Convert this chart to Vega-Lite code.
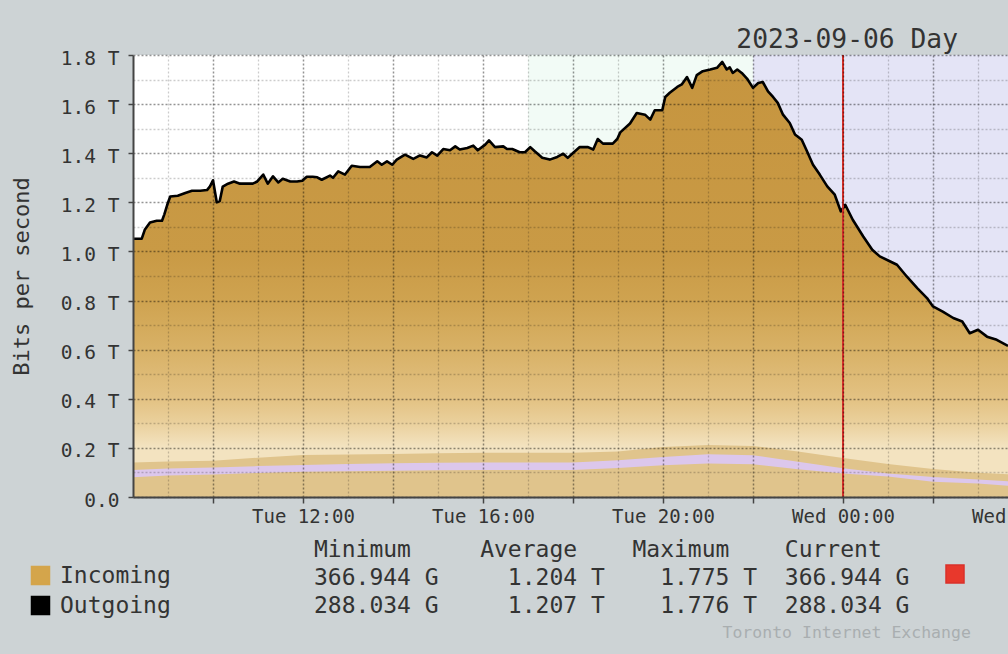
{
  "$schema": "https://vega.github.io/schema/vega-lite/v6.json",
  "autosize": "none",
  "width": 920,
  "height": 442,
  "padding": {"left": 133, "top": 55, "right": -45, "bottom": 157},
  "background": "#CDD3D5",
  "title": {"text": "2023-09-06 Day", "anchor": "end", "frame": "group", "orient": "top", "offset": 7, "dx": -95, "dy": 33, "font": "DejaVu Sans Mono", "fontSize": 26.3, "fontWeight": "normal", "color": "#333333", "baseline": "alphabetic"},
  "datasets": {
    "periods": [
      {"start": "2023-09-05T08:00", "end": "2023-09-05T17:00", "period": "day"},
      {"start": "2023-09-05T17:00", "end": "2023-09-05T22:00", "period": "peak"},
      {"start": "2023-09-05T22:00", "end": "2023-09-06T05:00", "period": "night"}
    ],
    "traffic": [
      {"t": "2023-09-05T08:13", "incoming": 1.052, "outgoing": 1.052},
      {"t": "2023-09-05T08:25", "incoming": 1.052, "outgoing": 1.052},
      {"t": "2023-09-05T08:29", "incoming": 1.088, "outgoing": 1.088},
      {"t": "2023-09-05T08:36", "incoming": 1.118, "outgoing": 1.118},
      {"t": "2023-09-05T08:45", "incoming": 1.125, "outgoing": 1.125},
      {"t": "2023-09-05T08:52", "incoming": 1.125, "outgoing": 1.125},
      {"t": "2023-09-05T08:55", "incoming": 1.150, "outgoing": 1.150},
      {"t": "2023-09-05T08:59", "incoming": 1.190, "outgoing": 1.190},
      {"t": "2023-09-05T09:03", "incoming": 1.224, "outgoing": 1.224},
      {"t": "2023-09-05T09:13", "incoming": 1.227, "outgoing": 1.227},
      {"t": "2023-09-05T09:23", "incoming": 1.238, "outgoing": 1.238},
      {"t": "2023-09-05T09:32", "incoming": 1.247, "outgoing": 1.247},
      {"t": "2023-09-05T09:43", "incoming": 1.247, "outgoing": 1.247},
      {"t": "2023-09-05T09:52", "incoming": 1.250, "outgoing": 1.250},
      {"t": "2023-09-05T09:56", "incoming": 1.265, "outgoing": 1.265},
      {"t": "2023-09-05T10:00", "incoming": 1.290, "outgoing": 1.290},
      {"t": "2023-09-05T10:05", "incoming": 1.200, "outgoing": 1.200},
      {"t": "2023-09-05T10:09", "incoming": 1.205, "outgoing": 1.205},
      {"t": "2023-09-05T10:13", "incoming": 1.264, "outgoing": 1.264},
      {"t": "2023-09-05T10:20", "incoming": 1.276, "outgoing": 1.276},
      {"t": "2023-09-05T10:28", "incoming": 1.285, "outgoing": 1.285},
      {"t": "2023-09-05T10:36", "incoming": 1.276, "outgoing": 1.276},
      {"t": "2023-09-05T10:45", "incoming": 1.276, "outgoing": 1.276},
      {"t": "2023-09-05T10:53", "incoming": 1.276, "outgoing": 1.276},
      {"t": "2023-09-05T10:59", "incoming": 1.285, "outgoing": 1.285},
      {"t": "2023-09-05T11:07", "incoming": 1.313, "outgoing": 1.313},
      {"t": "2023-09-05T11:13", "incoming": 1.276, "outgoing": 1.276},
      {"t": "2023-09-05T11:20", "incoming": 1.306, "outgoing": 1.306},
      {"t": "2023-09-05T11:27", "incoming": 1.281, "outgoing": 1.281},
      {"t": "2023-09-05T11:33", "incoming": 1.296, "outgoing": 1.296},
      {"t": "2023-09-05T11:43", "incoming": 1.285, "outgoing": 1.285},
      {"t": "2023-09-05T11:52", "incoming": 1.285, "outgoing": 1.285},
      {"t": "2023-09-05T11:59", "incoming": 1.288, "outgoing": 1.288},
      {"t": "2023-09-05T12:05", "incoming": 1.304, "outgoing": 1.304},
      {"t": "2023-09-05T12:13", "incoming": 1.304, "outgoing": 1.304},
      {"t": "2023-09-05T12:19", "incoming": 1.302, "outgoing": 1.302},
      {"t": "2023-09-05T12:25", "incoming": 1.292, "outgoing": 1.292},
      {"t": "2023-09-05T12:36", "incoming": 1.309, "outgoing": 1.309},
      {"t": "2023-09-05T12:40", "incoming": 1.300, "outgoing": 1.300},
      {"t": "2023-09-05T12:47", "incoming": 1.326, "outgoing": 1.326},
      {"t": "2023-09-05T12:56", "incoming": 1.313, "outgoing": 1.313},
      {"t": "2023-09-05T13:05", "incoming": 1.349, "outgoing": 1.349},
      {"t": "2023-09-05T13:16", "incoming": 1.344, "outgoing": 1.344},
      {"t": "2023-09-05T13:29", "incoming": 1.344, "outgoing": 1.344},
      {"t": "2023-09-05T13:39", "incoming": 1.367, "outgoing": 1.367},
      {"t": "2023-09-05T13:45", "incoming": 1.353, "outgoing": 1.353},
      {"t": "2023-09-05T13:52", "incoming": 1.367, "outgoing": 1.367},
      {"t": "2023-09-05T13:59", "incoming": 1.353, "outgoing": 1.353},
      {"t": "2023-09-05T14:05", "incoming": 1.374, "outgoing": 1.374},
      {"t": "2023-09-05T14:16", "incoming": 1.394, "outgoing": 1.394},
      {"t": "2023-09-05T14:27", "incoming": 1.377, "outgoing": 1.377},
      {"t": "2023-09-05T14:36", "incoming": 1.391, "outgoing": 1.391},
      {"t": "2023-09-05T14:45", "incoming": 1.383, "outgoing": 1.383},
      {"t": "2023-09-05T14:52", "incoming": 1.404, "outgoing": 1.404},
      {"t": "2023-09-05T14:59", "incoming": 1.390, "outgoing": 1.390},
      {"t": "2023-09-05T15:07", "incoming": 1.417, "outgoing": 1.417},
      {"t": "2023-09-05T15:16", "incoming": 1.412, "outgoing": 1.412},
      {"t": "2023-09-05T15:23", "incoming": 1.428, "outgoing": 1.428},
      {"t": "2023-09-05T15:29", "incoming": 1.415, "outgoing": 1.415},
      {"t": "2023-09-05T15:39", "incoming": 1.421, "outgoing": 1.421},
      {"t": "2023-09-05T15:47", "incoming": 1.431, "outgoing": 1.431},
      {"t": "2023-09-05T15:53", "incoming": 1.412, "outgoing": 1.412},
      {"t": "2023-09-05T16:03", "incoming": 1.435, "outgoing": 1.435},
      {"t": "2023-09-05T16:08", "incoming": 1.452, "outgoing": 1.452},
      {"t": "2023-09-05T16:16", "incoming": 1.425, "outgoing": 1.425},
      {"t": "2023-09-05T16:27", "incoming": 1.428, "outgoing": 1.428},
      {"t": "2023-09-05T16:32", "incoming": 1.417, "outgoing": 1.417},
      {"t": "2023-09-05T16:39", "incoming": 1.417, "outgoing": 1.417},
      {"t": "2023-09-05T16:49", "incoming": 1.404, "outgoing": 1.404},
      {"t": "2023-09-05T16:56", "incoming": 1.404, "outgoing": 1.404},
      {"t": "2023-09-05T17:03", "incoming": 1.425, "outgoing": 1.425},
      {"t": "2023-09-05T17:09", "incoming": 1.408, "outgoing": 1.408},
      {"t": "2023-09-05T17:19", "incoming": 1.382, "outgoing": 1.382},
      {"t": "2023-09-05T17:29", "incoming": 1.374, "outgoing": 1.374},
      {"t": "2023-09-05T17:39", "incoming": 1.385, "outgoing": 1.385},
      {"t": "2023-09-05T17:47", "incoming": 1.398, "outgoing": 1.398},
      {"t": "2023-09-05T17:53", "incoming": 1.381, "outgoing": 1.381},
      {"t": "2023-09-05T18:00", "incoming": 1.401, "outgoing": 1.401},
      {"t": "2023-09-05T18:09", "incoming": 1.425, "outgoing": 1.425},
      {"t": "2023-09-05T18:20", "incoming": 1.425, "outgoing": 1.425},
      {"t": "2023-09-05T18:27", "incoming": 1.415, "outgoing": 1.415},
      {"t": "2023-09-05T18:33", "incoming": 1.458, "outgoing": 1.458},
      {"t": "2023-09-05T18:40", "incoming": 1.439, "outgoing": 1.439},
      {"t": "2023-09-05T18:53", "incoming": 1.439, "outgoing": 1.439},
      {"t": "2023-09-05T18:59", "incoming": 1.458, "outgoing": 1.458},
      {"t": "2023-09-05T19:03", "incoming": 1.485, "outgoing": 1.485},
      {"t": "2023-09-05T19:16", "incoming": 1.521, "outgoing": 1.521},
      {"t": "2023-09-05T19:25", "incoming": 1.564, "outgoing": 1.564},
      {"t": "2023-09-05T19:36", "incoming": 1.557, "outgoing": 1.557},
      {"t": "2023-09-05T19:43", "incoming": 1.537, "outgoing": 1.537},
      {"t": "2023-09-05T19:49", "incoming": 1.575, "outgoing": 1.575},
      {"t": "2023-09-05T19:59", "incoming": 1.575, "outgoing": 1.575},
      {"t": "2023-09-05T20:03", "incoming": 1.629, "outgoing": 1.629},
      {"t": "2023-09-05T20:09", "incoming": 1.646, "outgoing": 1.646},
      {"t": "2023-09-05T20:19", "incoming": 1.670, "outgoing": 1.670},
      {"t": "2023-09-05T20:25", "incoming": 1.680, "outgoing": 1.680},
      {"t": "2023-09-05T20:32", "incoming": 1.710, "outgoing": 1.710},
      {"t": "2023-09-05T20:39", "incoming": 1.666, "outgoing": 1.666},
      {"t": "2023-09-05T20:45", "incoming": 1.718, "outgoing": 1.718},
      {"t": "2023-09-05T20:53", "incoming": 1.734, "outgoing": 1.734},
      {"t": "2023-09-05T21:03", "incoming": 1.741, "outgoing": 1.741},
      {"t": "2023-09-05T21:12", "incoming": 1.748, "outgoing": 1.748},
      {"t": "2023-09-05T21:19", "incoming": 1.772, "outgoing": 1.772},
      {"t": "2023-09-05T21:25", "incoming": 1.741, "outgoing": 1.741},
      {"t": "2023-09-05T21:29", "incoming": 1.750, "outgoing": 1.750},
      {"t": "2023-09-05T21:33", "incoming": 1.727, "outgoing": 1.727},
      {"t": "2023-09-05T21:39", "incoming": 1.741, "outgoing": 1.741},
      {"t": "2023-09-05T21:45", "incoming": 1.727, "outgoing": 1.727},
      {"t": "2023-09-05T21:52", "incoming": 1.704, "outgoing": 1.704},
      {"t": "2023-09-05T22:00", "incoming": 1.666, "outgoing": 1.666},
      {"t": "2023-09-05T22:07", "incoming": 1.686, "outgoing": 1.686},
      {"t": "2023-09-05T22:13", "incoming": 1.690, "outgoing": 1.690},
      {"t": "2023-09-05T22:20", "incoming": 1.652, "outgoing": 1.652},
      {"t": "2023-09-05T22:27", "incoming": 1.628, "outgoing": 1.628},
      {"t": "2023-09-05T22:33", "incoming": 1.605, "outgoing": 1.605},
      {"t": "2023-09-05T22:40", "incoming": 1.557, "outgoing": 1.557},
      {"t": "2023-09-05T22:49", "incoming": 1.523, "outgoing": 1.523},
      {"t": "2023-09-05T22:56", "incoming": 1.476, "outgoing": 1.476},
      {"t": "2023-09-05T23:05", "incoming": 1.455, "outgoing": 1.455},
      {"t": "2023-09-05T23:12", "incoming": 1.408, "outgoing": 1.408},
      {"t": "2023-09-05T23:20", "incoming": 1.353, "outgoing": 1.353},
      {"t": "2023-09-05T23:29", "incoming": 1.313, "outgoing": 1.313},
      {"t": "2023-09-05T23:39", "incoming": 1.265, "outgoing": 1.265},
      {"t": "2023-09-05T23:49", "incoming": 1.231, "outgoing": 1.231},
      {"t": "2023-09-05T23:57", "incoming": 1.163, "outgoing": 1.163},
      {"t": "2023-09-06T00:03", "incoming": 1.190, "outgoing": 1.190},
      {"t": "2023-09-06T00:13", "incoming": 1.129, "outgoing": 1.129},
      {"t": "2023-09-06T00:27", "incoming": 1.061, "outgoing": 1.061},
      {"t": "2023-09-06T00:39", "incoming": 1.007, "outgoing": 1.007},
      {"t": "2023-09-06T00:49", "incoming": 0.980, "outgoing": 0.980},
      {"t": "2023-09-06T01:03", "incoming": 0.959, "outgoing": 0.959},
      {"t": "2023-09-06T01:12", "incoming": 0.946, "outgoing": 0.946},
      {"t": "2023-09-06T01:25", "incoming": 0.898, "outgoing": 0.898},
      {"t": "2023-09-06T01:39", "incoming": 0.851, "outgoing": 0.851},
      {"t": "2023-09-06T01:52", "incoming": 0.810, "outgoing": 0.810},
      {"t": "2023-09-06T02:00", "incoming": 0.776, "outgoing": 0.776},
      {"t": "2023-09-06T02:13", "incoming": 0.755, "outgoing": 0.755},
      {"t": "2023-09-06T02:27", "incoming": 0.729, "outgoing": 0.729},
      {"t": "2023-09-06T02:39", "incoming": 0.715, "outgoing": 0.715},
      {"t": "2023-09-06T02:49", "incoming": 0.667, "outgoing": 0.667},
      {"t": "2023-09-06T03:00", "incoming": 0.681, "outgoing": 0.681},
      {"t": "2023-09-06T03:12", "incoming": 0.653, "outgoing": 0.653},
      {"t": "2023-09-06T03:25", "incoming": 0.640, "outgoing": 0.640},
      {"t": "2023-09-06T03:40", "incoming": 0.615, "outgoing": 0.615}
    ],
    "bands": [
      {"t": "2023-09-05T08:13", "tan": 0.140, "lilacLow": 0.080, "lilacHigh": 0.110},
      {"t": "2023-09-05T09:00", "tan": 0.145, "lilacLow": 0.088, "lilacHigh": 0.116},
      {"t": "2023-09-05T10:00", "tan": 0.148, "lilacLow": 0.092, "lilacHigh": 0.120},
      {"t": "2023-09-05T11:00", "tan": 0.160, "lilacLow": 0.098, "lilacHigh": 0.126},
      {"t": "2023-09-05T12:00", "tan": 0.171, "lilacLow": 0.103, "lilacHigh": 0.130},
      {"t": "2023-09-05T13:00", "tan": 0.173, "lilacLow": 0.105, "lilacHigh": 0.134},
      {"t": "2023-09-05T14:00", "tan": 0.175, "lilacLow": 0.107, "lilacHigh": 0.137},
      {"t": "2023-09-05T15:00", "tan": 0.178, "lilacLow": 0.109, "lilacHigh": 0.139},
      {"t": "2023-09-05T16:00", "tan": 0.180, "lilacLow": 0.110, "lilacHigh": 0.140},
      {"t": "2023-09-05T17:00", "tan": 0.180, "lilacLow": 0.110, "lilacHigh": 0.140},
      {"t": "2023-09-05T18:00", "tan": 0.180, "lilacLow": 0.110, "lilacHigh": 0.140},
      {"t": "2023-09-05T19:00", "tan": 0.185, "lilacLow": 0.118, "lilacHigh": 0.150},
      {"t": "2023-09-05T20:00", "tan": 0.204, "lilacLow": 0.129, "lilacHigh": 0.163},
      {"t": "2023-09-05T21:00", "tan": 0.212, "lilacLow": 0.136, "lilacHigh": 0.174},
      {"t": "2023-09-05T22:00", "tan": 0.208, "lilacLow": 0.133, "lilacHigh": 0.170},
      {"t": "2023-09-05T23:00", "tan": 0.185, "lilacLow": 0.113, "lilacHigh": 0.144},
      {"t": "2023-09-06T00:00", "tan": 0.159, "lilacLow": 0.096, "lilacHigh": 0.117},
      {"t": "2023-09-06T01:00", "tan": 0.134, "lilacLow": 0.083, "lilacHigh": 0.096},
      {"t": "2023-09-06T02:00", "tan": 0.114, "lilacLow": 0.062, "lilacHigh": 0.081},
      {"t": "2023-09-06T03:00", "tan": 0.099, "lilacLow": 0.055, "lilacHigh": 0.071},
      {"t": "2023-09-06T03:40", "tan": 0.093, "lilacLow": 0.046, "lilacHigh": 0.064}
    ],
    "marker": [
      {"t": "2023-09-06T00:00", "label": "Current"}
    ]
  },
  "layer": [
    {
      "data": {"name": "periods"},
      "mark": {"type": "rect", "clip": true},
      "encoding": {
        "x": {"field": "start", "type": "temporal", "axis": null,
              "scale": {"domain": [{"year": 2023, "month": 9, "date": 5, "hours": 8, "minutes": 13, "seconds": 20}, {"year": 2023, "month": 9, "date": 6, "hours": 4, "minutes": 40}]}},
        "x2": {"field": "end"},
        "fill": {"field": "period", "type": "nominal", "legend": null,
                 "scale": {"domain": ["day", "peak", "night"], "range": ["#FFFFFF", "#F2FBF6", "#E4E4F6"]}}
      }
    },
    {
      "data": {"name": "traffic"},
      "mark": {"type": "area", "clip": true,
               "fill": {"gradient": "linear", "x1": 0, "y1": 0, "x2": 0, "y2": 1,
                        "stops": [
                          {"offset": 0, "color": "#C6953F"},
                          {"offset": 0.44, "color": "#C99A45"},
                          {"offset": 0.55, "color": "#CFA350"},
                          {"offset": 0.66, "color": "#D8B166"},
                          {"offset": 0.775, "color": "#E3C283"},
                          {"offset": 0.83, "color": "#EAD09C"},
                          {"offset": 0.885, "color": "#F3E3C0"},
                          {"offset": 1, "color": "#F3E3C0"}
                        ]}},
      "encoding": {
        "x": {"field": "t", "type": "temporal",
              "axis": {
                "orient": "bottom",
                "values": [
                  {"year": 2023, "month": 9, "date": 5, "hours": 10},
                  {"year": 2023, "month": 9, "date": 5, "hours": 12},
                  {"year": 2023, "month": 9, "date": 5, "hours": 14},
                  {"year": 2023, "month": 9, "date": 5, "hours": 16},
                  {"year": 2023, "month": 9, "date": 5, "hours": 18},
                  {"year": 2023, "month": 9, "date": 5, "hours": 20},
                  {"year": 2023, "month": 9, "date": 5, "hours": 22},
                  {"year": 2023, "month": 9, "date": 6, "hours": 0},
                  {"year": 2023, "month": 9, "date": 6, "hours": 2},
                  {"year": 2023, "month": 9, "date": 6, "hours": 4}
                ],
                "grid": true, "gridColor": "#000000", "gridOpacity": 0.42, "gridDash": [2, 2], "gridWidth": 1.5,
                "domain": true, "domainColor": "#444444", "domainWidth": 2,
                "ticks": true, "tickColor": "#444444", "tickSize": 6, "tickWidth": 1.5,
                "labelExpr": "hours(datum.value) % 4 == 0 ? timeFormat(datum.value, '%a %H:%M') : ''",
                "labelFont": "DejaVu Sans Mono", "labelFontSize": 19, "labelColor": "#333333",
                "labelBaseline": "alphabetic", "labelPadding": 19, "labelFlush": false, "labelOverlap": false, "labelBound": false,
                "title": [
                  "Minimum\u00a0\u00a0\u00a0\u00a0\u00a0Average\u00a0\u00a0\u00a0\u00a0Maximum\u00a0\u00a0\u00a0\u00a0Current",
                  "366.944\u00a0G\u00a0\u00a0\u00a0\u00a0\u00a01.204\u00a0T\u00a0\u00a0\u00a0\u00a01.775\u00a0T\u00a0\u00a0366.944\u00a0G",
                  "288.034\u00a0G\u00a0\u00a0\u00a0\u00a0\u00a01.207\u00a0T\u00a0\u00a0\u00a0\u00a01.776\u00a0T\u00a0\u00a0288.034\u00a0G"
                ],
                "titleFont": "DejaVu Sans Mono", "titleFontSize": 23, "titleFontWeight": "normal", "titleColor": "#333333",
                "titleAnchor": "start", "titleAlign": "left", "titleBaseline": "alphabetic",
                "titleX": 180.5, "titleY": 59, "titleLineHeight": 28, "zindex": 1
              }},
        "y": {"field": "incoming", "type": "quantitative",
              "scale": {"domain": [0, 1.8], "nice": false, "zero": true},
              "axis": {
                "orient": "left",
                "values": [0, 0.2, 0.4, 0.6, 0.8, 1.0, 1.2, 1.4, 1.6, 1.8],
                "grid": true, "gridColor": "#000000", "gridOpacity": 0.42, "gridDash": [2, 2], "gridWidth": 1.5,
                "domain": true, "domainColor": "#444444", "domainWidth": 2,
                "ticks": true, "tickColor": "#444444", "tickSize": 5, "tickWidth": 1.5,
                "labelExpr": "datum.value == 0 ? '0.0' : format(datum.value, '.1f') + ' T'",
                "labelFont": "DejaVu Sans Mono", "labelFontSize": 19.5, "labelColor": "#333333",
                "labelBaseline": "alphabetic", "labelOffset": 9, "labelPadding": 9, "labelOverlap": false,
                "title": "Bits per second",
                "titleFont": "DejaVu Sans Mono", "titleFontSize": 22, "titleFontWeight": "normal", "titleColor": "#333333",
                "titleAngle": -90, "titleAlign": "center", "titleBaseline": "alphabetic",
                "titleX": -104.5, "titleY": 221, "zindex": 1
              }}
      }
    },
    {
      "data": {"name": "bands"},
      "mark": {"type": "area", "clip": true, "color": "#E0C48C"},
      "encoding": {
        "x": {"field": "t", "type": "temporal",
              "axis": {
                "orient": "bottom",
                "values": [
                  {"year": 2023, "month": 9, "date": 5, "hours": 9},
                  {"year": 2023, "month": 9, "date": 5, "hours": 11},
                  {"year": 2023, "month": 9, "date": 5, "hours": 13},
                  {"year": 2023, "month": 9, "date": 5, "hours": 15},
                  {"year": 2023, "month": 9, "date": 5, "hours": 17},
                  {"year": 2023, "month": 9, "date": 5, "hours": 19},
                  {"year": 2023, "month": 9, "date": 5, "hours": 21},
                  {"year": 2023, "month": 9, "date": 5, "hours": 23},
                  {"year": 2023, "month": 9, "date": 6, "hours": 1},
                  {"year": 2023, "month": 9, "date": 6, "hours": 3}
                ],
                "grid": true, "gridColor": "#000000", "gridOpacity": 0.2, "gridDash": [2, 2], "gridWidth": 1.3,
                "domain": false, "ticks": false, "labels": false,
                "title": "Toronto Internet Exchange",
                "titleFont": "DejaVu Sans Mono", "titleFontSize": 16.5, "titleFontWeight": "normal", "titleColor": "#A9AEB0",
                "titleAnchor": "start", "titleAlign": "left", "titleBaseline": "alphabetic",
                "titleX": 589, "titleY": 140, "zindex": 1
              }},
        "y": {"field": "tan", "type": "quantitative",
              "axis": {
                "orient": "left",
                "values": [0.1, 0.3, 0.5, 0.7, 0.9, 1.1, 1.3, 1.5, 1.7],
                "grid": true, "gridColor": "#000000", "gridOpacity": 0.2, "gridDash": [2, 2], "gridWidth": 1.3,
                "domain": false, "ticks": false, "labels": false, "title": null, "zindex": 1
              }},
        "y2": {"datum": 0}
      }
    },
    {
      "data": {"name": "bands"},
      "mark": {"type": "area", "clip": true, "color": "#DCC7EC"},
      "encoding": {
        "x": {"field": "t", "type": "temporal", "axis": null},
        "y": {"field": "lilacHigh", "type": "quantitative", "axis": null},
        "y2": {"field": "lilacLow"}
      }
    },
    {
      "data": {"name": "traffic"},
      "mark": {"type": "line", "clip": true, "strokeWidth": 2.6, "strokeJoin": "round"},
      "encoding": {
        "x": {"field": "t", "type": "temporal", "axis": null},
        "y": {"field": "outgoing", "type": "quantitative", "axis": null},
        "stroke": {"datum": "Outgoing", "type": "nominal",
                   "scale": {"domain": ["Incoming", "Outgoing"], "range": ["#D4A54B", "#000000"]},
                   "legend": {"orient": "none", "legendX": -104, "legendY": 509, "title": null, "direction": "vertical",
                              "symbolType": "square", "symbolSize": 324, "symbolStrokeWidth": 1.5, "symbolStrokeColor": "#000000",
                              "labelFont": "DejaVu Sans Mono", "labelFontSize": 23, "labelColor": "#333333",
                              "labelOffset": 8, "rowPadding": 5, "padding": 0,
                              "encode": {"symbols": {"update": {"fill": {"scale": "stroke", "field": "value"}, "stroke": {"value": "#000000"}, "strokeWidth": {"value": 1.5}, "opacity": {"value": 1}}}}}}
      }
    },
    {
      "data": {"name": "marker"},
      "mark": {"type": "rule", "strokeWidth": 2},
      "encoding": {
        "x": {"field": "t", "type": "temporal", "axis": null},
        "color": {"field": "label", "type": "nominal",
                  "scale": {"range": ["#D9302A"]},
                  "legend": {"orient": "none", "legendX": 812, "legendY": 509, "title": null,
                             "symbolType": "square", "symbolSize": 324, "symbolStrokeColor": "#000000", "symbolStrokeWidth": 1.5,
                             "labelExpr": "''", "padding": 0,
                             "encode": {"symbols": {"update": {"fill": {"value": "#E8382C"}, "stroke": {"value": "#000000"}, "strokeWidth": {"value": 1.5}, "opacity": {"value": 1}}}}}}
      }
    }
  ],
  "resolve": {"axis": {"x": "independent", "y": "independent"}},
  "config": {
    "view": {"stroke": null},
    "font": "DejaVu Sans Mono",
    "axis": {"zindex": 1}
  }
}
